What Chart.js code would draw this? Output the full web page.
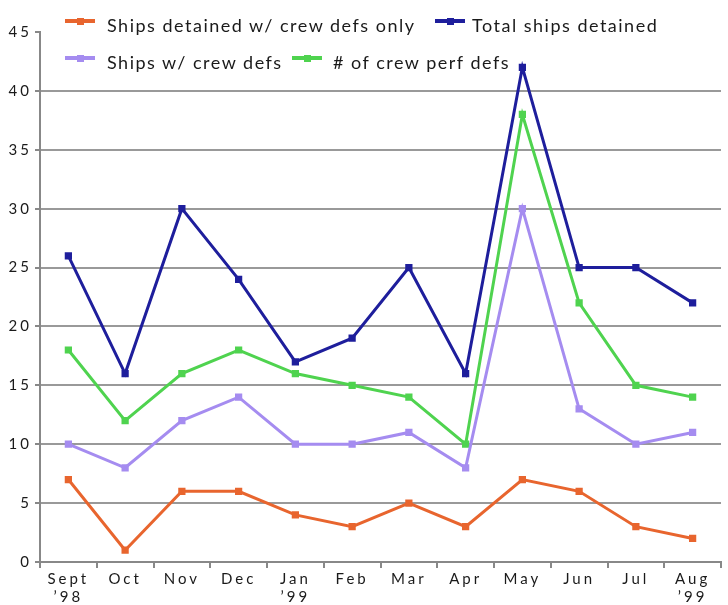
<!DOCTYPE html>
<html>
<head>
<meta charset="utf-8">
<script src="https://cdn.jsdelivr.net/npm/chart.js@4"></script>
<style>
  body { margin: 0; background: #fff; }
  #wrap { position: relative; width: 728px; height: 605px; }
  .leg { position: absolute; font-family: Lato, sans-serif; font-size: 18px; letter-spacing: 1.5px; color: #1a1a1a; white-space: nowrap; line-height: 22px; }
  .sw { position: absolute; height: 4px; width: 30px; }
  .sw i { position: absolute; left: 50%; top: -1.5px; width: 7px; height: 7px; margin-left: -3.5px; }
</style>
</head>
<body>
<div id="wrap">
  <canvas id="crewChart" width="728" height="605"></canvas>
</div>
<script>
const months = [['Sept', '\u201998'], 'Oct', 'Nov', 'Dec', ['Jan', '\u201999'], 'Feb', 'Mar', 'Apr', 'May', 'Jun', 'Jul', ['Aug', '\u201999']];
const crewOnly = [7, 1, 6, 6, 4, 3, 5, 3, 7, 6, 3, 2];
const totalDetained = [26, 16, 30, 24, 17, 19, 25, 16, 42, 25, 25, 22];
const withCrewDefs = [10, 8, 12, 14, 10, 10, 11, 8, 30, 13, 10, 11];
const crewPerfDefs = [18, 12, 16, 18, 16, 15, 14, 10, 38, 22, 15, 14];
const yTicks = [0, 5, 10, 15, 20, 25, 30, 35, 40, 45];

const seriesNames = ['Ships detained w/ crew defs only', 'Total ships detained', 'Ships w/ crew defs', '# of crew perf defs'];
const seriesColors = ['#e8652e', '#1e1e9c', '#a58cf0', '#4fd34f'];
const seriesData = [crewOnly, totalDetained, withCrewDefs, crewPerfDefs];

// legend placement: [swatch x, text x, row y]
const legendSpots = [[65, 107, 14], [435, 472, 14], [65, 107, 51], [292, 333, 51]];

const spacing = {
    id: 'spacing',
    beforeDraw(chart) { chart.ctx.letterSpacing = '3px'; },
    afterDraw(chart) { chart.ctx.letterSpacing = '0px'; }
};

const ctx = document.getElementById('crewChart').getContext('2d');
const crewChart = new Chart(ctx, {
    type: 'line',
    data: {
        labels: months,
        datasets: seriesNames.map(function(name, i) {
            return {
                label: name,
                data: seriesData[i],
                borderColor: seriesColors[i],
                backgroundColor: seriesColors[i],
                borderWidth: 3,
                pointRadius: 3,
                pointStyle: 'rect',
                tension: 0
            };
        })
    },
    options: {
        responsive: false,
        animation: false,
        layout: { padding: { top: 32, right: 0, left: 0, bottom: 0 } },
        plugins: {
            legend: { display: false },
            tooltip: { enabled: false }
        },
        scales: {
            x: {
                offset: true,
                grid: {
                    offset: true,
                    drawOnChartArea: false,
                    tickLength: 6,
                    color: '#888',
                    lineWidth: 2
                },
                border: { color: '#888', width: 2 },
                ticks: {
                    color: '#1a1a1a',
                    padding: 2,
                    maxRotation: 0,
                    autoSkip: false,
                    font: { family: 'Lato', size: 15 }
                },
                afterFit: function(scale) { scale.height = 43; }
            },
            y: {
                min: 0,
                max: 45,
                afterBuildTicks: function(scale) {
                    scale.ticks = yTicks.map(function(v) { return { value: v }; });
                },
                grid: {
                    color: function(c) { return c.tick && c.tick.value === 45 ? 'rgba(0,0,0,0)' : '#999'; },
                    tickColor: '#888',
                    tickLength: 5,
                    lineWidth: 2
                },
                border: { color: '#888', width: 2 },
                ticks: {
                    color: '#1a1a1a',
                    padding: 3,
                    font: { family: 'Lato', size: 15 }
                },
                afterFit: function(scale) { scale.width = 40; }
            }
        }
    },
    plugins: [spacing]
});

// HTML legend over the plot
const wrap = document.getElementById('wrap');
seriesNames.forEach(function(name, i) {
    const spot = legendSpots[i];
    const sw = document.createElement('div');
    sw.className = 'sw';
    sw.style.left = spot[0] + 'px';
    sw.style.top = (spot[2] + 5) + 'px';
    sw.style.background = seriesColors[i];
    const dot = document.createElement('i');
    dot.style.background = seriesColors[i];
    sw.appendChild(dot);
    wrap.appendChild(sw);

    const txt = document.createElement('div');
    txt.className = 'leg';
    txt.style.left = spot[1] + 'px';
    txt.style.top = spot[2] + 'px';
    txt.textContent = name;
    wrap.appendChild(txt);
});
</script>
</body>
</html>
